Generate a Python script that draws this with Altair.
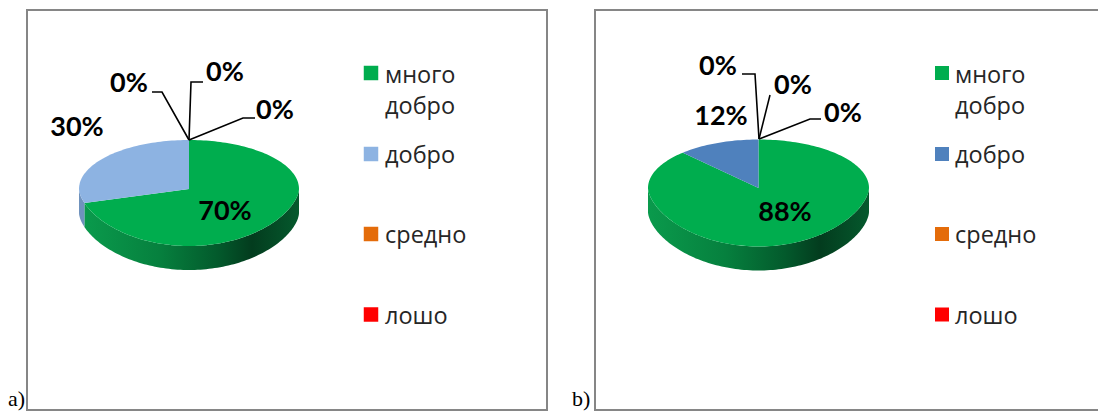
import math
import altair as alt
import pandas as pd

CATEGORIES = ["много добро", "добро", "средно", "лошо"]
VALUES_A = [70, 30, 0, 0]
VALUES_B = [88, 12, 0, 0]
COLORS_A = ["#00AD4E", "#8DB3E2", "#E46C0A", "#FF0000"]
COLORS_B = ["#00AD4E", "#4F81BD", "#E46C0A", "#FF0000"]
SIDE_A = ["#00AD4E", "#6F92BD", "#B85808", "#CC0000"]
SIDE_B = ["#00AD4E", "#3D6797", "#B85808", "#CC0000"]
LABELS_A = ["70%", "30%", "0%", "0%", "0%"]
LABELS_B = ["88%", "12%", "0%", "0%", "0%"]

SIDE_GRADIENT = alt.Gradient(
    gradient="linear", x1=0, x2=1, y1=0, y2=0,
    stops=[
        alt.GradientStop(offset=0, color="#0A9A4C"),
        alt.GradientStop(offset=0.35, color="#06803E"),
        alt.GradientStop(offset=0.62, color="#035A2C"),
        alt.GradientStop(offset=0.78, color="#033C1E"),
        alt.GradientStop(offset=1, color="#05592D"),
    ],
)


def rim(geo, deg, drop=0.0):
    t = math.radians(deg)
    c = math.cos(t)
    if c > 0:
        dy = -geo["back"] * c
    else:
        dy = geo["front"] * abs(c) ** 1.2
    return geo["cx"] + geo["rx"] * math.sin(t), geo["cy"] + dy + drop


def arc_points(geo, a0, a1, drop=0.0):
    n = max(2, int(abs(a1 - a0) / 1.5) + 1)
    return [rim(geo, a0 + (a1 - a0) * i / (n - 1), drop) for i in range(n)]


def poly(points):
    return pd.DataFrame({"x": [p[0] for p in points], "y": [p[1] for p in points],
                         "i": list(range(len(points)))})


def panel(values, labels, colors, sides, geo, leaders, label_pos, legend, frame, xdom, tag, tag_x):
    width = xdom[1] - xdom[0]
    xs = alt.Scale(domain=xdom, range=[0, width], nice=False, zero=False)
    ys = alt.Scale(domain=[8, 412], range=[0, 404], nice=False, zero=False)
    X = alt.X("x:Q", scale=xs, axis=None)
    Y = alt.Y("y:Q", scale=ys, axis=None)
    layers = []

    # frame
    layers.append(
        alt.Chart(pd.DataFrame([frame]))
        .mark_rect(filled=False, stroke="#868686", strokeWidth=2, clip=True)
        .encode(x=X, x2="x2:Q", y=Y, y2="y2:Q")
    )

    total = sum(values)
    start = 0.0
    spans = []
    for v in values:
        spans.append((start, start + 360.0 * v / total))
        start += 360.0 * v / total

    def shape(points, fill):
        return alt.Chart(poly(points)).mark_line(fill=fill, strokeWidth=0).encode(
            x=X, y=Y, order=alt.Order("i:Q"))

    # side wall of the disc
    for idx, (a0, a1) in enumerate(spans):
        lo, hi = max(a0, 90), min(a1, 270)
        if hi <= lo:
            continue
        top = arc_points(geo, lo, hi)
        bottom = arc_points(geo, hi, lo, geo["depth"])
        fill = SIDE_GRADIENT if idx == 0 else sides[idx]
        layers.append(shape(top + bottom, fill))

    # top face
    for idx, (a0, a1) in enumerate(spans):
        if a1 <= a0:
            continue
        layers.append(shape([(geo["cx"], geo["cy"])] + arc_points(geo, a0, a1), colors[idx]))

    # leader lines
    for pts in leaders:
        layers.append(
            alt.Chart(poly(pts)).mark_line(color="#000000", strokeWidth=1.6).encode(
                x=X, y=Y, order=alt.Order("i:Q"))
        )

    # data labels
    lab = pd.DataFrame({"x": [p[0] for p in label_pos], "y": [p[1] for p in label_pos], "t": labels})
    layers.append(
        alt.Chart(lab)
        .mark_text(font="Lato", fontWeight="bold", fontSize=27, color="#000000",
                   align="center", baseline="middle")
        .encode(x=X, y=Y, text="t:N")
    )

    # legend
    color = alt.Color("c:N", scale=alt.Scale(domain=CATEGORIES, range=colors), legend=None)
    sq = pd.DataFrame({"x": [legend["sx"]] * 4, "y": legend["ys"], "c": CATEGORIES})
    layers.append(
        alt.Chart(sq).mark_square(size=legend["size"], opacity=1, filled=True)
        .encode(x=X, y=Y, color=color)
    )
    lines = pd.DataFrame({
        "x": [legend["tx"]] * 5,
        "y": legend["tys"],
        "t": ["много", "добро", "добро", "средно", "лошо"],
    })
    layers.append(
        alt.Chart(lines)
        .mark_text(font="Open Sans", fontSize=23.5, color="#262626", align="left", baseline="middle")
        .encode(x=X, y=Y, text="t:N")
    )

    # panel tag
    layers.append(
        alt.Chart(pd.DataFrame({"x": [tag_x], "y": [406], "t": [tag]}))
        .mark_text(font="Liberation Serif", fontSize=22, color="#000000",
                   align="left", baseline="alphabetic")
        .encode(x=X, y=Y, text="t:N")
    )
    return alt.layer(*layers).properties(width=width, height=404)


geo_a = dict(cx=189, cy=189, rx=110, back=49, front=57, depth=24)
geo_b = dict(cx=758.5, cy=188, rx=110.5, back=48.5, front=58.5, depth=24)

chart_a = panel(
    VALUES_A, LABELS_A, COLORS_A, SIDE_A, geo_a,
    leaders=[
        [(189, 140), (162, 92), (152, 92)],
        [(189, 140), (191, 82), (203, 82)],
        [(189, 140), (243, 118), (255, 118)],
    ],
    label_pos=[(225, 212), (77, 128), (129, 84), (225, 73), (275, 111)],
    legend=dict(sx=371, size=210, ys=[73, 154, 234, 314.5], tx=385,
                tys=[76, 107, 156, 236, 317]),
    frame=dict(x=27, x2=547, y=10, y2=410),
    xdom=[8, 548], tag="a)", tag_x=8,
)
chart_b = panel(
    VALUES_B, LABELS_B, COLORS_B, SIDE_B, geo_b,
    leaders=[
        [(759, 139), (755, 74), (742, 74)],
        [(759, 139), (770, 95)],
        [(759, 139), (810, 119), (821, 119)],
    ],
    label_pos=[(785, 213), (721, 117), (718, 67), (793, 86), (843, 114)],
    legend=dict(sx=942, size=196, ys=[73, 154, 234, 314.5], tx=955,
                tys=[76, 107, 156, 236, 317]),
    frame=dict(x=595, x2=1130, y=10, y2=410),
    xdom=[548, 1098], tag="b)", tag_x=572,
)

chart = (
    alt.hconcat(chart_a, chart_b, spacing=0, padding=0, bounds="flush")
    .resolve_scale(color="independent", x="independent", y="independent")
    .configure_view(stroke=None)
    .properties(background="#ffffff")
)
chart.save("out.html", embed_options={"renderer": "svg", "actions": False})
